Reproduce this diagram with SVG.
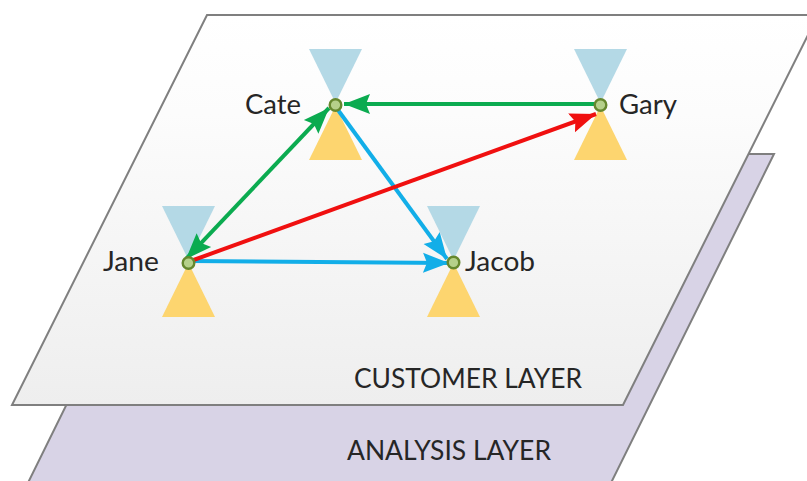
<svg xmlns="http://www.w3.org/2000/svg" width="807" height="481" viewBox="0 0 807 481">
<style>
.lbl{font-family:Lato,"Liberation Sans",sans-serif;fill:#262626}
.name{font-size:27px}
.layer{font-size:26px}
.up{fill:#b4d9e6}
.down{fill:#fdd56f}
.dot{fill:#b5d08a;stroke:#66882e;stroke-width:2.4}
.edge{fill:none;stroke-width:4}
.plane{stroke:#7f7f7f;stroke-width:2}
</style>
<defs>
<linearGradient id="g1" x1="0" y1="0" x2="0" y2="1"><stop offset="0" stop-color="#ffffff"/><stop offset="0.25" stop-color="#fcfcfc"/><stop offset="1" stop-color="#eeeeee"/></linearGradient>
<marker id="ag" markerUnits="userSpaceOnUse" markerWidth="28" markerHeight="22" refX="26" refY="11" orient="auto-start-reverse"><path d="M0,1 L26,11 L0,21 L4,11 Z" fill="#0bab50"/></marker>
<marker id="ab" markerUnits="userSpaceOnUse" markerWidth="28" markerHeight="22" refX="26" refY="11" orient="auto"><path d="M0,1 L26,11 L0,21 L4,11 Z" fill="#12aee8"/></marker>
<marker id="ar" markerUnits="userSpaceOnUse" markerWidth="28" markerHeight="22" refX="26" refY="11" orient="auto"><path d="M0,1 L26,11 L0,21 L4,11 Z" fill="#f01010"/></marker>
<g id="hourglass"><polygon class="up" points="-26.500,-56 26.500,-56 0,-2"/><polygon class="down" points="-26.500,55 26.500,55 0,1"/></g>
</defs>
<rect width="807" height="481" fill="#ffffff"/>
<g id="analysis-layer">
<polygon points="190,154 774,154 604,497 21,497" fill="#d8d3e6" stroke="#7f7f7f" stroke-width="2"/>
<text class="lbl layer" x="347" y="460" textLength="204" lengthAdjust="spacingAndGlyphs">ANALYSIS LAYER</text>
</g>
<g id="customer-layer">
<polygon class="plane" points="207,15 818,15 623,405 12,405" fill="url(#g1)"/>
<text class="lbl layer" x="354" y="388" textLength="228" lengthAdjust="spacingAndGlyphs">CUSTOMER LAYER</text>
</g>
<g id="node-cate"><use href="#hourglass" x="335.500" y="105"/></g>
<g id="node-gary"><use href="#hourglass" x="600.500" y="105"/></g>
<g id="node-jane"><use href="#hourglass" x="188.500" y="262"/></g>
<g id="node-jacob"><use href="#hourglass" x="453.500" y="262"/></g>
<g id="connectors">
<line class="edge" x1="596" y1="104" x2="344" y2="104" stroke="#0bab50" marker-end="url(#ag)"/>
<line class="edge" x1="329" y1="108" x2="186" y2="259" stroke="#0bab50" marker-start="url(#ag)" marker-end="url(#ag)"/>
<line class="edge" x1="338" y1="110" x2="447" y2="259" stroke="#12aee8" marker-end="url(#ab)"/>
<line class="edge" x1="190" y1="261" x2="449" y2="263" stroke="#12aee8" marker-end="url(#ab)"/>
<line class="edge" x1="188" y1="262" x2="596" y2="114" stroke="#f01010" marker-end="url(#ar)"/>
</g>
<g id="dots">
<circle class="dot" cx="335.500" cy="105" r="5.800"/>
<circle class="dot" cx="600.500" cy="105" r="5.800"/>
<circle class="dot" cx="188.500" cy="263" r="5.800"/>
<circle class="dot" cx="453.500" cy="262.500" r="5.800"/>
</g>
<g id="labels">
<text class="lbl name" x="245" y="114" textLength="56" lengthAdjust="spacingAndGlyphs">Cate</text>
<text class="lbl name" x="619" y="114" textLength="58" lengthAdjust="spacingAndGlyphs">Gary</text>
<text class="lbl name" x="103" y="271" textLength="56" lengthAdjust="spacingAndGlyphs">Jane</text>
<text class="lbl name" x="465" y="271" textLength="70" lengthAdjust="spacingAndGlyphs">Jacob</text>
</g>
</svg>
